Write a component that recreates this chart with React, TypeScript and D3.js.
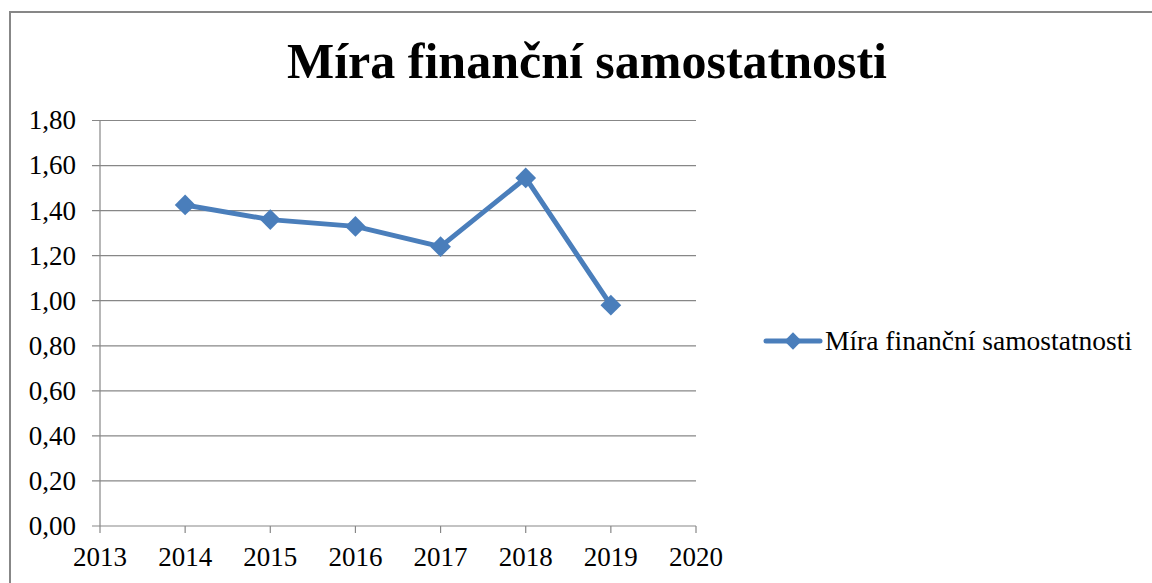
import React from "react";
import { scaleLinear, line, symbol, symbolSquare } from "d3";

const title = "Míra finanční samostatnosti";
const seriesName = "Míra finanční samostatnosti";
const years = [2014, 2015, 2016, 2017, 2018, 2019];
const values = [1.425, 1.36, 1.33, 1.24, 1.545, 0.98];
const xTicks = [2013, 2014, 2015, 2016, 2017, 2018, 2019, 2020];
const yTicks = [0, 0.2, 0.4, 0.6, 0.8, 1.0, 1.2, 1.4, 1.6, 1.8];

export default function App() {
  const width = 1152,
    height = 583;
  const left = 100,
    right = 696,
    top = 120.5,
    bottom = 526;
  const blue = "#4A7EBB";
  const grid = "#878787";
  const font = "'Liberation Serif', 'Times New Roman', serif";

  const x = scaleLinear().domain([2013, 2020]).range([left, right]);
  const y = scaleLinear().domain([0, 1.8]).range([bottom, top]);

  const pts = years.map((yr, i) => [x(yr), y(values[i])] as [number, number]);
  const path = line()(pts) || "";
  // square turned 45 degrees -> diamond as wide as it is tall
  const diamond = symbol().type(symbolSquare).size(215)() || "";

  const fmt = (v: number) => v.toFixed(2).replace(".", ",");

  return (
    <svg
      width={width}
      height={height}
      style={{ position: "absolute", left: 0, top: 0, background: "#fff" }}
    >
      <rect x={10} y={12} width={1200} height={700} fill="#fff" stroke={grid} strokeWidth={2} />
      <text
        x={587}
        y={78}
        textAnchor="middle"
        style={{ fontFamily: font, fontWeight: "bold", fontSize: 50 }}
      >
        {title}
      </text>
      {yTicks.map(t => (
        <g key={t}>
          <line x1={left - 8} x2={right} y1={y(t)} y2={y(t)} stroke={grid} strokeWidth={1.2} />
          <text
            x={76}
            y={y(t)}
            dy="0.33em"
            textAnchor="end"
            style={{ fontFamily: font, fontSize: 27 }}
          >
            {fmt(t)}
          </text>
        </g>
      ))}
      <line x1={left} x2={left} y1={top} y2={bottom} stroke={grid} strokeWidth={1.2} />
      {xTicks.map(t => (
        <g key={t}>
          <line x1={x(t)} x2={x(t)} y1={bottom} y2={bottom + 7} stroke={grid} strokeWidth={1.2} />
          <text
            x={x(t)}
            y={566}
            textAnchor="middle"
            style={{ fontFamily: font, fontSize: 27 }}
          >
            {t}
          </text>
        </g>
      ))}
      <path d={path} fill="none" stroke={blue} strokeWidth={5} strokeLinejoin="round" />
      {pts.map((p, i) => (
        <path key={i} d={diamond} transform={`translate(${p[0]},${p[1]}) rotate(45)`} fill={blue} />
      ))}
      <line x1={766} x2={820} y1={341} y2={341} stroke={blue} strokeWidth={5} strokeLinecap="round" />
      <path d={symbol().type(symbolSquare).size(150)() || ""} transform="translate(793,341) rotate(45)" fill={blue} />
      <text x={825} y={350} style={{ fontFamily: font, fontSize: 27.5 }}>
        {seriesName}
      </text>
    </svg>
  );
}
